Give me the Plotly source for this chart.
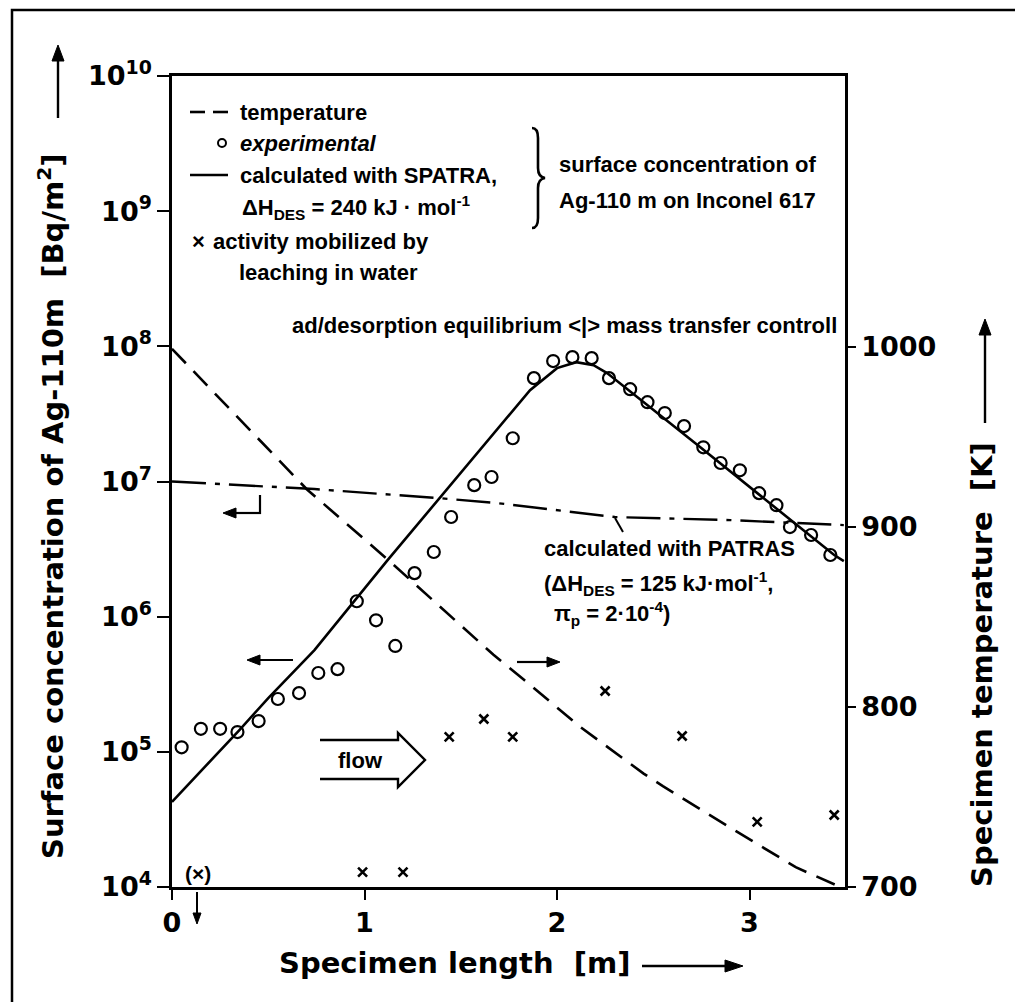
import math
import plotly.graph_objects as go

# ---------------- data ----------------
exp_x = [0.05, 0.15, 0.25, 0.34, 0.45, 0.55, 0.66, 0.76, 0.86, 0.96, 1.06, 1.16,
         1.26, 1.36, 1.45, 1.57, 1.66, 1.77, 1.88, 1.98, 2.08, 2.18, 2.27, 2.38,
         2.47, 2.56, 2.66, 2.76, 2.85, 2.95, 3.05, 3.14, 3.21, 3.32, 3.42]
exp_y = [1.08e5, 1.48e5, 1.48e5, 1.40e5, 1.69e5, 2.46e5, 2.72e5, 3.83e5, 4.09e5,
         1.30e6, 9.4e5, 6.07e5, 2.10e6, 3.01e6, 5.46e6, 9.4e6, 1.08e7, 2.09e7,
         5.82e7, 7.78e7, 8.32e7, 8.18e7, 5.82e7, 4.82e7, 3.86e7, 3.21e7, 2.57e7,
         1.79e7, 1.37e7, 1.21e7, 8.2e6, 6.68e6, 4.60e6, 4.02e6, 2.86e6]

spatra_x = [0.0, 0.35, 0.50, 0.74, 1.12, 1.39, 1.69, 1.86, 2.00, 2.10, 2.19, 2.26,
            2.73, 3.14, 3.44, 3.49]
spatra_y = [4.26e4, 1.45e5, 2.50e5, 5.66e5, 2.62e6, 7.53e6, 2.40e7, 4.74e7, 6.90e7,
            7.64e7, 7.26e7, 6.34e7, 1.86e7, 6.25e6, 2.86e6, 2.58e6]

patras_x = [0.0, 0.74, 1.39, 1.69, 2.30, 2.90, 3.49]
patras_y = [1.0e7, 8.79e6, 7.53e6, 6.92e6, 5.46e6, 5.18e6, 4.76e6]

temp_x = [0.0, 0.70, 1.12, 1.67, 1.83, 2.12, 2.45, 2.55, 2.93, 3.24, 3.45]
temp_T = [999, 921, 882, 829, 815, 789, 763, 756, 731, 711, 701]

leach_x = [0.99, 1.20, 1.44, 1.62, 1.77, 2.25, 2.65, 3.04, 3.44]
leach_y = [1.29e4, 1.29e4, 1.29e5, 1.75e5, 1.29e5, 2.82e5, 1.31e5, 3.03e4, 3.41e4]

x_ticks = [0, 1, 2, 3]
y_ticks = [1e4, 1e5, 1e6, 1e7, 1e8, 1e9, 1e10]
y_ticktext = ["10<sup>4</sup>", "10<sup>5</sup>", "10<sup>6</sup>", "10<sup>7</sup>",
              "10<sup>8</sup>", "10<sup>9</sup>", "10<sup>10</sup>"]
t_ticks = [700, 800, 900, 1000]

# ---------------- layout geometry ----------------
W, H = 1015, 1002
PL, PR, PT, PB = 172, 845, 76, 887
XMAX = (PR - PL) / 192.5
TMAX = 700 + (PB - PT) / 1.8


def px(x):
    return (x - PL) / (PR - PL)


def py(y):
    return (PB - y) / (PB - PT)


TICKFONT = dict(family="DejaVu Sans", size=27, color="black", weight="bold")
TXT = "Liberation Sans"
BLACK = "black"

fig = go.Figure()

fig.add_trace(go.Scatter(x=temp_x, y=temp_T, yaxis="y2", mode="lines",
                         line=dict(color=BLACK, width=2.6, dash="20px,11px"),
                         name="temperature", showlegend=False))
fig.add_trace(go.Scatter(x=patras_x, y=patras_y, mode="lines",
                         line=dict(color=BLACK, width=2.4, dash="34px,9px,5px,9px"),
                         name="PATRAS", showlegend=False))
fig.add_trace(go.Scatter(x=spatra_x, y=spatra_y, mode="lines",
                         line=dict(color=BLACK, width=2.6),
                         name="SPATRA", showlegend=False))
fig.add_trace(go.Scatter(x=exp_x, y=exp_y, mode="markers",
                         marker=dict(symbol="circle-open", size=12, color=BLACK,
                                     line=dict(width=2.2, color=BLACK)),
                         name="experimental", showlegend=False))
fig.add_trace(go.Scatter(x=leach_x, y=leach_y, mode="markers",
                         marker=dict(symbol="x-thin-open", size=9, color=BLACK,
                                     line=dict(width=2.6, color=BLACK)),
                         name="leaching", showlegend=False))

shapes = []
annotations = []


def line_px(x0, y0, x1, y1, w=2.4, dash="solid"):
    shapes.append(dict(type="line", xref="paper", yref="paper",
                       x0=px(x0), y0=py(y0), x1=px(x1), y1=py(y1),
                       line=dict(color=BLACK, width=w, dash=dash)))


def text_px(x, y, s, size=22, xanchor="left", bold=True, italic=False, angle=0,
            family=TXT):
    style = "italic" if italic else "normal"
    weight = "bold" if bold else "normal"
    annotations.append(dict(x=px(x), y=py(y), xref="paper", yref="paper", text=s,
                            showarrow=False, xanchor=xanchor, yanchor="middle",
                            textangle=angle,
                            font=dict(family=family, size=size, color=BLACK,
                                      style=style, weight=weight)))


def arrow_px(x_tail, y_tail, x_head, y_head, w=2.2, hl=13, hw=5):
    """line plus a filled triangular head, drawn as shapes in pixel space"""
    dx, dy = x_head - x_tail, y_head - y_tail
    L = math.hypot(dx, dy)
    ux, uy = dx / L, dy / L
    bx, by = x_head - ux * hl, y_head - uy * hl
    nx, ny = -uy, ux
    line_px(x_tail, y_tail, bx + ux * 2, by + uy * 2, w=w)
    shapes.append(dict(type="path", xref="paper", yref="paper",
                       path=(f"M {px(x_head)},{py(y_head)} "
                             f"L {px(bx + nx * hw)},{py(by + ny * hw)} "
                             f"L {px(bx - nx * hw)},{py(by - ny * hw)} Z"),
                       fillcolor=BLACK, line=dict(color=BLACK, width=1)))


# outer frame (right/bottom edges lie outside the picture)
shapes.append(dict(type="rect", xref="paper", yref="paper",
                   x0=px(12), y0=py(1030), x1=px(1040), y1=py(10),
                   line=dict(color=BLACK, width=2.5)))

# legend block
line_px(190, 112, 205, 112, w=2.6)
line_px(213, 112, 228, 112, w=2.6)
text_px(238, 112, "temperature")
shapes.append(dict(type="circle", xref="paper", yref="paper",
                   x0=px(218), y0=py(139), x1=px(226), y1=py(147),
                   line=dict(color=BLACK, width=2)))
text_px(238, 143, "experimental", italic=True)
line_px(190, 175, 228, 175, w=2.6)
text_px(238, 175, "calculated with SPATRA,")
text_px(240, 207, "\u0394H<sub>DES</sub> = 240 kJ \u00b7 mol<sup>-1</sup>")
text_px(198, 241, "\u00d7", size=22, xanchor="center")
text_px(211, 241, "activity mobilized by")
text_px(237, 272, "leaching in water")

# brace
bx = 538
shapes.append(dict(type="path", xref="paper", yref="paper",
                   path=(f"M {px(bx-6)},{py(128)} Q {px(bx)},{py(128)} {px(bx)},{py(138)} "
                         f"L {px(bx)},{py(168)} Q {px(bx)},{py(177)} {px(bx+7)},{py(178)} "
                         f"Q {px(bx)},{py(179)} {px(bx)},{py(188)} "
                         f"L {px(bx)},{py(218)} Q {px(bx)},{py(228)} {px(bx-6)},{py(228)}"),
                   line=dict(color=BLACK, width=2.6)))
text_px(557, 165, "surface concentration of")
text_px(557, 200, "Ag-110 m on Inconel 617")

# regime label
text_px(290, 325, "ad/desorption equilibrium &lt;|&gt; mass transfer controll")

# PATRAS label
text_px(542, 548, "calculated with PATRAS")
text_px(542, 583, "(\u0394H<sub>DES</sub> = 125 kJ\u00b7mol<sup>-1</sup>,")
text_px(552, 613, "\u03c0<sub>p</sub> = 2\u00b710<sup>-4</sup>)")
line_px(615, 518, 623, 532, w=2)

# axis-pointer arrows
line_px(260, 495, 260, 514, w=2.2)
arrow_px(261, 513, 223, 513)
arrow_px(293, 660, 247, 660)
arrow_px(517, 662, 560, 662)

# flow arrow
shapes.append(dict(type="path", xref="paper", yref="paper",
                   path=(f"M {px(320)},{py(740)} L {px(398)},{py(740)} L {px(398)},{py(733)} "
                         f"L {px(425)},{py(760)} L {px(398)},{py(787)} L {px(398)},{py(779)} "
                         f"L {px(320)},{py(779)}"),
                   line=dict(color=BLACK, width=2.4)))
text_px(360, 760, "flow", xanchor="center")

# (x) marker below range
text_px(198, 873, "(\u00d7)", xanchor="center", size=21)
arrow_px(197, 892, 197, 924, w=2, hl=11, hw=4)

# axis titles
TITLE = dict(size=29, bold=True, family="DejaVu Sans")
text_px(51, 506, "Surface concentration of Ag-110m  [Bq/m<sup>2</sup>]",
        xanchor="center", angle=-90, **TITLE)
arrow_px(58, 118, 58, 45, w=2.4, hl=16, hw=6)
text_px(982, 665, "Specimen temperature  [K]", xanchor="center", angle=-90, **TITLE)
arrow_px(985, 423, 985, 319, w=2.4, hl=16, hw=6)
text_px(277, 963, "Specimen length  [m]", **TITLE)
arrow_px(642, 966, 743, 966, w=2.4, hl=18, hw=6)

fig.update_layout(
    width=W, height=H,
    margin=dict(l=PL, r=W - PR, t=PT, b=H - PB, pad=0),
    paper_bgcolor="white", plot_bgcolor="white",
    showlegend=False,
    xaxis=dict(range=[0, XMAX], tickvals=x_ticks, ticktext=[str(v) for v in x_ticks],
               ticks="outside", ticklen=10, tickwidth=2, tickcolor=BLACK,
               showline=True, linecolor=BLACK, linewidth=2.5, mirror=True,
               showgrid=False, zeroline=False, tickfont=TICKFONT),
    yaxis=dict(type="log", range=[4, 10], tickvals=y_ticks, ticktext=y_ticktext,
               ticks="outside", ticklen=12, tickwidth=2, tickcolor=BLACK,
               showline=True, linecolor=BLACK, linewidth=2.5, mirror=False,
               showgrid=False, zeroline=False, tickfont=TICKFONT),
    yaxis2=dict(overlaying="y", side="right", range=[700, TMAX], tickvals=t_ticks,
                ticks="outside", ticklen=8, tickwidth=2, tickcolor=BLACK,
                showline=True, linecolor=BLACK, linewidth=2.5,
                showgrid=False, zeroline=False, tickfont=TICKFONT),
    shapes=shapes,
    annotations=annotations,
)

fig.write_html("out.html")
